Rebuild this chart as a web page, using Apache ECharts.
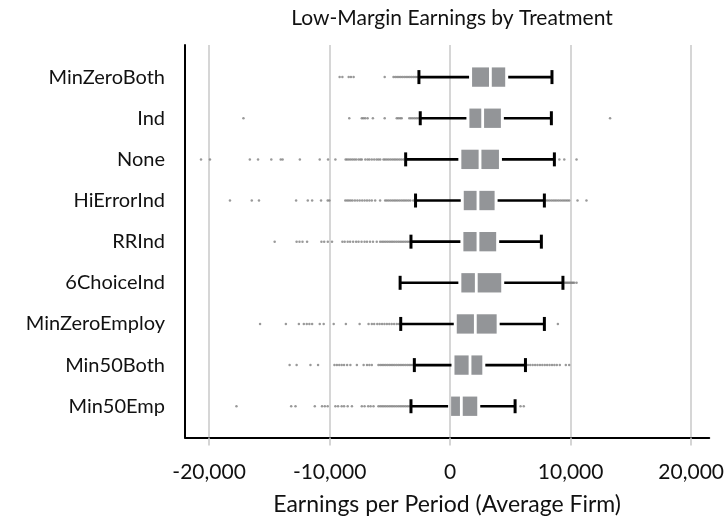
<!DOCTYPE html>
<html><head><meta charset="utf-8">
<script src="https://cdn.jsdelivr.net/npm/echarts@6/dist/echarts.min.js"></script>
<style>html,body{margin:0;padding:0;background:#fff}#c{width:727px;height:523px}</style>
</head><body><div id="c"></div>
<script>
const categories = ['MinZeroBoth','Ind','None','HiErrorInd','RRInd','6ChoiceInd','MinZeroEmploy','Min50Both','Min50Emp'];
const whiskerLow  = [-2590, -2480, -3690, -2870, -3250, -4150, -4100, -2970, -3250];
const quartile1   = [1820, 1600, 930, 1130, 1100, 930, 550, 360, 80];
const medians     = [3340, 2700, 2480, 2310, 2310, 2170, 2090, 1650, 930];
const quartile3   = [4570, 4210, 4050, 3690, 3820, 4240, 3860, 2670, 2250];
const whiskerHigh = [8450, 8400, 8650, 7820, 7570, 9360, 7820, 6250, 5390];
const xTicks = [-20000, -10000, 0, 10000, 20000];

const outMinZeroBoth = [-9170, -8940, -8420, -8230, -8010, -5430, -4700, -4550, -4400, -4250, -4100, -3950, -3800, -3650, -3500, -3350, -3200, -3050, -2900, -2750];
const outInd = [-17150, -8370, -7330, -7200, -7050, -6850, -6410, -5430, -4430, -4300, -4150, -4020, -3390, -3250, -3100, -2950, -2800, -2650, 13270];
const outNone = [-20670, -19930, -16620, -15940, -14840, -14060, -13900, -12470, -10820, -10130, -9520, -8670, -8550, -8400, -8250, -8100, -7950, -7800, -7600, -7450, -7330, -7040, -6850, -6700, -6500, -6300, -6100, -5950, -5800, -5530, -5400, -5250, -5100, -4950, -4800, -4650, -4500, -4350, -4200, -4050, -3880, 9060, 9470, 10490];
const outHiErrorInd = [-18270, -16460, -15860, -12780, -11810, -11450, -10710, -10160, -10020, -8700, -8550, -8400, -8250, -8100, -7900, -7700, -7500, -7300, -7100, -6900, -6700, -6500, -6220, -5810, -5390, -5250, -5100, -4950, -4800, -4650, -4500, -4350, -4200, -4050, -3900, -3750, -3600, -3450, -3300, -3060, 7950, 8100, 8250, 8400, 8550, 8700, 8850, 9000, 9150, 9300, 9450, 9600, 9740, 9880, 10570, 11310];
const outRRInd = [-14560, -12740, -12500, -12250, -11870, -10680, -10450, -10150, -9800, -8940, -8750, -8500, -8300, -8050, -7800, -7600, -7350, -7100, -6900, -6650, -6400, -6090, -5810, -5650, -5500, -5350, -5200, -5050, -4900, -4750, -4600, -4450, -4300, -4150, -4000, -3850, -3700, -3550, -3400];
const out6ChoiceInd = [9500, 9600, 9700, 9800, 9900, 10000, 10100, 10200, 10300, 10490];
const outMinZeroEmploy = [-15770, -13630, -12550, -12140, -11900, -11680, -11450, -10820, -10490, -9660, -8650, -7510, -6770, -6500, -6300, -6050, -5850, -5650, -5450, -5250, -5050, -4850, -4650, -4430, -4250, 8940];
const outMin50Both = [-13320, -12740, -11590, -10960, -9600, -9400, -9200, -9000, -8800, -8550, -8280, -7740, -7180, -6900, -6700, -6500, -5950, -5800, -5650, -5500, -5350, -5200, -5050, -4900, -4750, -4600, -4450, -4300, -4150, -4000, -3850, -3700, -3550, -3400, -3250, -3100, 6450, 6650, 6850, 7050, 7250, 7450, 7650, 7850, 8050, 8250, 8450, 8650, 8850, 9100, 9600, 9880];
const outMin50Emp = [-17730, -13190, -12830, -11230, -10630, -10400, -10160, -9520, -9300, -9000, -8800, -8500, -8150, -7330, -7100, -6800, -6600, -6360, -5950, -5800, -5650, -5500, -5350, -5200, -5050, -4900, -4750, -4600, -4450, -4300, -4150, -4000, -3850, -3700, -3550, -3400, 5840, 6110];
const outlierLists = [outMinZeroBoth, outInd, outNone, outHiErrorInd, outRRInd, out6ChoiceInd, outMinZeroEmploy, outMin50Both, outMin50Emp];

const boxData = categories.map((c, i) => [i, whiskerLow[i], quartile1[i], medians[i], quartile3[i], whiskerHigh[i]]);
const outlierData = [];
outlierLists.forEach((list, i) => list.forEach(v => outlierData.push([v, i])));

const FONT = 'Lato';
function renderBox(params, api) {
  const y = api.value(0);
  const pLow = api.coord([api.value(1), y]);
  const pQ1 = api.coord([api.value(2), y]);
  const pMed = api.coord([api.value(3), y]);
  const pQ3 = api.coord([api.value(4), y]);
  const pHigh = api.coord([api.value(5), y]);
  const unit = Math.abs(api.size([0, 1])[1]);
  const bh = unit * 0.47, cap = unit * 0.34, cy = pMed[1];
  const lw = 2.6, gap = 3, mg = 1.4;
  const stroke = {stroke: '#000', lineWidth: lw};
  return {type: 'group', children: [
    {type: 'line', shape: {x1: pLow[0], y1: cy, x2: pQ1[0] - gap, y2: cy}, style: stroke},
    {type: 'line', shape: {x1: pQ3[0] + gap, y1: cy, x2: pHigh[0], y2: cy}, style: stroke},
    {type: 'line', shape: {x1: pLow[0], y1: cy - cap / 2, x2: pLow[0], y2: cy + cap / 2}, style: {stroke: '#000', lineWidth: 3}},
    {type: 'line', shape: {x1: pHigh[0], y1: cy - cap / 2, x2: pHigh[0], y2: cy + cap / 2}, style: {stroke: '#000', lineWidth: 3}},
    {type: 'rect', shape: {x: pQ1[0], y: cy - bh / 2, width: pMed[0] - mg - pQ1[0], height: bh}, style: {fill: '#939598'}},
    {type: 'rect', shape: {x: pMed[0] + mg, y: cy - bh / 2, width: pQ3[0] - pMed[0] - mg, height: bh}, style: {fill: '#939598'}}
  ]};
}

const chart = echarts.init(document.getElementById('c'), null, {renderer: 'canvas'});
chart.setOption({
  animation: false,
  backgroundColor: '#fff',
  textStyle: {fontFamily: FONT},
  title: {
    text: 'Low-Margin Earnings by Treatment',
    left: 447, top: 3, textAlign: 'center',
    textStyle: {fontFamily: FONT, fontSize: 21, fontWeight: 'normal', color: '#111'}
  },
  grid: {left: 185, right: 15, top: 45, bottom: 85.5, containLabel: false},
  xAxis: {
    type: 'value', min: -22000, max: 21500,
    axisLine: {onZero: false, lineStyle: {color: '#000', width: 2}},
    axisTick: {show: true, length: 8, customValues: xTicks, lineStyle: {color: '#c8c8c8', width: 1.5}},
    splitLine: {show: true, lineStyle: {color: '#c8c8c8', width: 1.5}},
    axisLabel: {customValues: xTicks, margin: 24.5, fontSize: 21, color: '#111', fontFamily: FONT,
      formatter: v => v.toLocaleString('en-US')},
    name: 'Earnings per Period (Average Firm)', nameLocation: 'middle', nameGap: 55.5,
    nameTextStyle: {fontSize: 23, color: '#111', fontFamily: FONT}
  },
  yAxis: {
    type: 'value', inverse: true, min: -0.78, max: 8.76,
    axisLine: {show: true, onZero: false, lineStyle: {color: '#000', width: 2}},
    axisTick: {show: false, customValues: [0,1,2,3,4,5,6,7,8]},
    splitLine: {show: false},
    axisLabel: {customValues: [0,1,2,3,4,5,6,7,8], margin: 20, fontSize: 20, color: '#111', fontFamily: FONT,
      formatter: v => categories[Math.round(v)]}
  },
  series: [
    {type: 'scatter', data: outlierData, symbol: 'circle', symbolSize: 2.5,
      itemStyle: {color: '#808080'}, z: 2, silent: true},
    {type: 'custom', renderItem: renderBox, data: boxData,
      encode: {x: [1, 2, 3, 4, 5], y: 0}, z: 3, silent: true}
  ]
});
</script></body></html>
